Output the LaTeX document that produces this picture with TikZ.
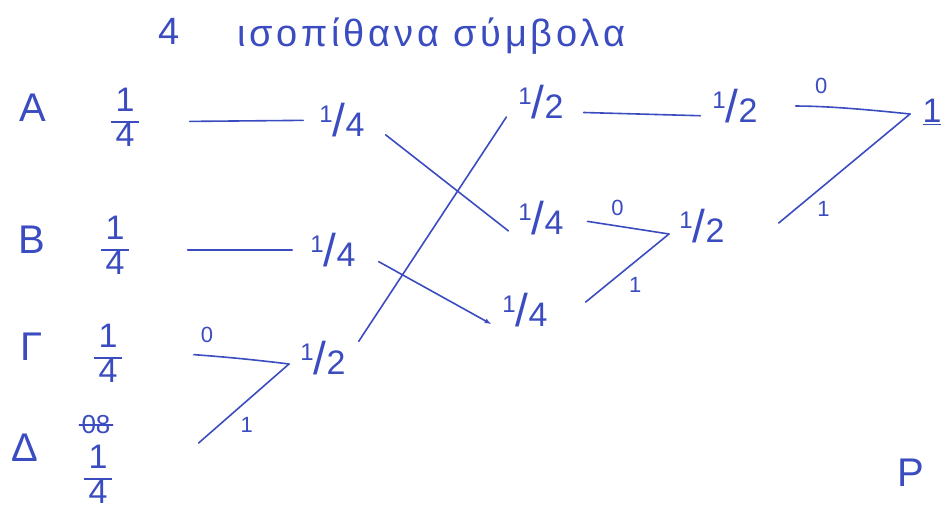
\documentclass[tikz,border=0pt]{standalone}
\usepackage{fontspec}
\setmainfont{Liberation Sans}
\newfontfamily\widefont[LetterSpace=10]{Liberation Sans}
\usetikzlibrary{arrows.meta}
\definecolor{Ink}{HTML}{3A4CC0}
% stacked and slashed fractions
\newcommand\stfr[2]{{\setlength\arrayrulewidth{1.5pt}\renewcommand\arraystretch{0.85}%
  \begin{tabular}{@{\kern5pt}c@{\kern5pt}}#1\\\hline#2\end{tabular}}}
\newcommand\slfr[2]{\raisebox{.4em}{\fontsize{24}{24}\selectfont#1}%
  {\fontsize{46}{46}\selectfont/}#2}
\tikzset{
  ink/.style={text=Ink},
  title/.style={ink,font=\fontsize{38}{40}\selectfont},
  sym/.style={ink,font=\fontsize{40}{40}\selectfont,inner sep=2pt},
  prob/.style={ink,font=\fontsize{34}{38}\selectfont,inner sep=2pt},
  bit/.style={ink,font=\fontsize{22}{22}\selectfont,inner sep=1pt},
  edge/.style={draw=Ink,line width=1.6pt,line cap=round},
  push/.style={edge,-{Latex[length=7pt,width=5pt]}}
}
\begin{document}
\begin{tikzpicture}[x=1pt,y=-1pt]
  \useasboundingbox (0,0) rectangle (942,514);
  \node[title] (num) at (169,31) {4};
  \node[title,anchor=west,font=\widefont\fontsize{38}{40}\selectfont] (caption) at (234,36) {ισοπίθανα σύμβολα};
  % symbols with their probabilities
  \foreach \n/\lab/\x/\y in {A/A/33/108,B/B/32/240,G/Γ/32/347,D/Δ/25/448}
    \node[sym] (s\n) at (\x,\y) {\lab};
  \foreach \n/\x/\y in {A/125/122,B/115/250,G/108/358,D/98/479}
    \node[prob] (p\n) at (\x,\y) {\stfr14};
  \node[prob,font=\fontsize{26}{26}\selectfont] (old) at (96,425) {08};
  \draw[edge] (old.west) -- (old.east);
  % first step
  \node[prob] (qA) at (342,120) {\slfr14};
  \node[prob] (qB) at (333,250) {\slfr14};
  \node[prob] (qGD) at (323,358) {\slfr12};
  \coordinate (jGD) at (289,364);
  \draw[edge,shorten <=48pt,shorten >=14pt] (pA) -- (qA);
  \draw[edge,shorten <=56pt,shorten >=16pt] (pB) -- (qB);
  \draw[edge,shorten <=70pt] (pG.east) to[bend left=5]
    node[bit,midway,above=12pt] {0} (jGD);
  \draw[edge] ([shift={(84,0)}]pD.north east) --
    node[bit,pos=0.4,below right=4pt] {1} (jGD);
  % second step, sorted again
  \node[prob] (rHalf) at (541,102) {\slfr12};
  \node[prob] (rA) at (541,218) {\slfr14};
  \node[prob] (rB) at (525,310) {\slfr14};
  \draw[edge,shorten <=24pt,shorten >=10pt] (qA.east) -- (rA.south west);
  \draw[push,shorten <=24pt,shorten >=10pt] (qB.east) -- (rB.south west);
  \draw[edge,shorten <=20pt,shorten >=18pt] (qGD.east) -- (rHalf.west);
  % third step
  \node[prob] (tHalf) at (735,106) {\slfr12};
  \node[prob] (tAB) at (702,226) {\slfr12};
  \coordinate (jAB) at (669,234);
  \draw[edge,shorten <=18pt,shorten >=10pt] ([yshift=-10pt]rHalf.east) -- ([yshift=-10pt]tHalf.west);
  \draw[edge,shorten <=22pt] (rA.east) --
    node[bit,midway,above=8pt] {0} (jAB);
  \draw[edge] ([shift={(36,-8)}]rB.east) --
    node[bit,pos=0.45,below right=4pt] {1} (jAB);
  % root
  \node[prob] (root) at (932,112) {\underline{1}};
  \coordinate (jRoot) at (910,114);
  \draw[edge,shorten <=36pt] (tHalf.east) to[bend left=3]
    node[bit,pos=0.4,above=12pt] {0} (jRoot);
  \draw[edge] ([shift={(52,-3)}]tAB.east) --
    node[bit,pos=0.25,below right=4pt] {1} (jRoot);
  \node[sym] (pnote) at (911,473) {P};
\end{tikzpicture}
\end{document}
